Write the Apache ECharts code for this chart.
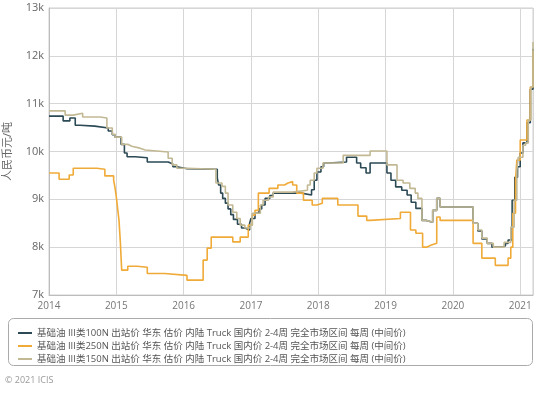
<!DOCTYPE html>
<html><head><meta charset="utf-8">
<script src="https://cdn.jsdelivr.net/npm/echarts@6/dist/echarts.min.js"></script>
<style>html,body{margin:0;padding:0;background:#fff}#c{width:550px;height:393px}</style>
</head><body><div id="c"></div>
<script>
const seriesNames = [
  "基础油 III类100N 出站价 华东 估价 内陆 Truck 国内价 2-4周 完全市场区间 每周 (中间价)",
  "基础油 III类250N 出站价 华东 估价 内陆 Truck 国内价 2-4周 完全市场区间 每周 (中间价)",
  "基础油 III类150N 出站价 华东 估价 内陆 Truck 国内价 2-4周 完全市场区间 每周 (中间价)"
];
const yearTicks = [2014, 2015, 2016, 2017, 2018, 2019, 2020, 2021];
// [year (decimal), value] change points – each value holds until the next point
const s100N = [
  [2014.00,10740],[2014.21,10640],[2014.31,10700],[2014.39,10550],[2014.46,10530],[2014.68,10490],
  [2014.88,10430],[2014.94,10350],[2014.98,10300],[2015.07,10150],[2015.12,9970],[2015.16,9890],
  [2015.28,9870],[2015.46,9780],[2015.77,9740],[2015.84,9680],[2015.90,9640],[2016.05,9630],
  [2016.47,9630],[2016.50,9450],[2016.52,9300],[2016.55,9130],[2016.58,9020],[2016.62,8920],
  [2016.66,8800],[2016.70,8680],[2016.74,8580],[2016.80,8480],[2016.86,8400],[2016.91,8360],
  [2016.98,8500],[2017.00,8600],[2017.06,8710],[2017.12,8800],[2017.16,8880],[2017.21,9020],
  [2017.28,9080],[2017.33,9130],[2017.75,9090],[2017.90,9200],[2017.94,9400],[2017.98,9570],
  [2018.04,9680],[2018.08,9760],[2018.15,9780],[2018.42,9880],[2018.57,9760],[2018.63,9660],
  [2018.71,9550],[2018.77,9760],[2019.02,9550],[2019.08,9400],[2019.15,9260],[2019.24,9190],
  [2019.32,9090],[2019.38,8940],[2019.45,8810],[2019.54,8560],[2019.60,8520],[2019.70,8770],
  [2019.76,9020],[2019.81,8840],[2020.30,8500],[2020.37,8340],[2020.43,8170],[2020.51,8080],
  [2020.58,8000],[2020.74,8030],[2020.78,8080],[2020.82,8150],[2020.88,8980],[2020.92,9460],
  [2020.96,9680],[2021.00,9970],[2021.04,10180],[2021.10,10600],[2021.15,11300],[2021.19,12150]
];
const s250N = [
  [2014.00,9550],[2014.15,9420],[2014.30,9510],[2014.36,9650],[2014.71,9630],[2014.83,9490],
  [2014.96,9400],[2014.98,9250],[2015.00,9050],[2015.02,8800],[2015.04,8560],[2015.06,8100],
  [2015.07,7800],[2015.08,7520],[2015.17,7600],[2015.31,7580],[2015.46,7450],[2015.72,7410],
  [2016.05,7310],[2016.29,7730],[2016.35,7980],[2016.41,8210],[2016.73,8110],[2016.84,8210],
  [2016.96,8460],[2017.02,8670],[2017.06,8770],[2017.11,9130],[2017.27,9230],[2017.40,9300],
  [2017.50,9340],[2017.55,9370],[2017.62,9300],[2017.68,9130],[2017.78,8980],[2017.91,8880],
  [2017.98,8920],[2018.06,9020],[2018.29,8880],[2018.59,8650],[2018.72,8560],[2018.77,8600],
  [2019.22,8730],[2019.37,8360],[2019.45,8290],[2019.55,8000],[2019.61,8040],[2019.67,8080],
  [2019.76,8630],[2019.81,8560],[2020.30,8080],[2020.43,7770],[2020.63,7620],[2020.82,7770],
  [2020.86,8000],[2020.89,8710],[2020.93,9400],[2020.95,9820],[2021.00,10240],[2021.10,10660],
  [2021.15,11350],[2021.19,12100]
];
const s150N = [
  [2014.00,10850],[2014.24,10760],[2014.36,10800],[2014.50,10720],[2014.76,10700],[2014.86,10490],
  [2014.94,10360],[2014.98,10300],[2015.08,10150],[2015.17,10110],[2015.23,10070],[2015.35,10030],
  [2015.43,9990],[2015.77,9860],[2015.83,9720],[2015.90,9650],[2016.05,9630],[2016.48,9340],
  [2016.57,9270],[2016.62,9130],[2016.66,8880],[2016.73,8730],[2016.79,8600],[2016.84,8460],
  [2016.91,8400],[2016.99,8460],[2017.02,8710],[2017.14,8880],[2017.18,8980],[2017.26,9050],
  [2017.33,9150],[2017.61,9190],[2017.84,9300],[2017.88,9400],[2017.94,9550],[2017.98,9650],
  [2018.07,9760],[2018.37,9920],[2018.77,10010],[2019.02,9720],[2019.17,9400],[2019.26,9340],
  [2019.36,9230],[2019.44,9130],[2019.48,9020],[2019.54,8560],[2019.60,8520],[2019.70,8770],
  [2019.76,9020],[2019.81,8840],[2020.30,8500],[2020.37,8360],[2020.43,8190],[2020.51,8080],
  [2020.60,8000],[2020.76,8100],[2020.86,8420],[2020.91,8980],[2020.95,9610],[2020.97,9880],
  [2021.04,10130],[2021.08,10180],[2021.12,10660],[2021.16,11350],[2021.19,12290]
];
const colors = ['#2c4a56', '#f0aa38', '#c2b994'];
const font = "'Open Sans','Noto Sans CJK SC',sans-serif";

const chart = echarts.init(document.getElementById('c'), null, {renderer: 'canvas'});
chart.setOption({
  animation: false,
  color: colors,
  grid: {left: 49, right: 17, top: 8, bottom: 98, show: true, borderColor: '#cfcfcf', borderWidth: 1,
         containLabel: false, outerBoundsMode: 'none'},
  xAxis: {
    type: 'value', min: yearTicks[0], max: 2021.19, interval: 1,
    axisLine: {show: true, lineStyle: {color: '#bdbdbd'}},
    axisTick: {show: false},
    splitLine: {show: true, lineStyle: {color: '#d6d6d6'}},
    axisLabel: {showMaxLabel: false, color: '#777', fontSize: 10, fontFamily: font, margin: 6,
      formatter: v => yearTicks.includes(Math.round(v)) && Math.abs(v - Math.round(v)) < 0.01 ? String(Math.round(v)) : ''}
  },
  yAxis: {
    type: 'value', min: 7000, max: 13000, interval: 1000,
    name: '人民币元/吨', nameLocation: 'middle', nameGap: 36,
    nameTextStyle: {color: '#666', fontSize: 11, fontFamily: font},
    axisLine: {show: true, lineStyle: {color: '#bdbdbd'}},
    axisTick: {show: false},
    splitLine: {show: true, lineStyle: {color: '#d6d6d6'}},
    axisLabel: {color: '#666', fontSize: 11, fontFamily: font, margin: 5, formatter: v => (v / 1000) + 'k'}
  },
  legend: {
    orient: 'vertical', left: 13, top: 322, itemGap: 1, itemWidth: 14, itemHeight: 2, icon: 'rect',
    textStyle: {color: '#555', fontSize: 9.5, fontFamily: font, lineHeight: 12},
    data: seriesNames
  },
  series: [
    {name: seriesNames[0], type: 'line', step: 'end', showSymbol: false, data: s100N, lineStyle: {width: 1.6}},
    {name: seriesNames[1], type: 'line', step: 'end', showSymbol: false, data: s250N, lineStyle: {width: 1.6}},
    {name: seriesNames[2], type: 'line', step: 'end', showSymbol: false, data: s150N, lineStyle: {width: 1.6}}
  ],
  graphic: [
    {type: 'rect', shape: {x: 8.5, y: 318.5, width: 524, height: 47, r: 5}, style: {fill: 'none', stroke: '#aaa', lineWidth: 1}, z: -1},
    {type: 'text', x: 5, y: 376, style: {text: '© 2021 ICIS', fill: '#999', fontSize: 9, fontFamily: font}}
  ]
});
</script></body></html>
